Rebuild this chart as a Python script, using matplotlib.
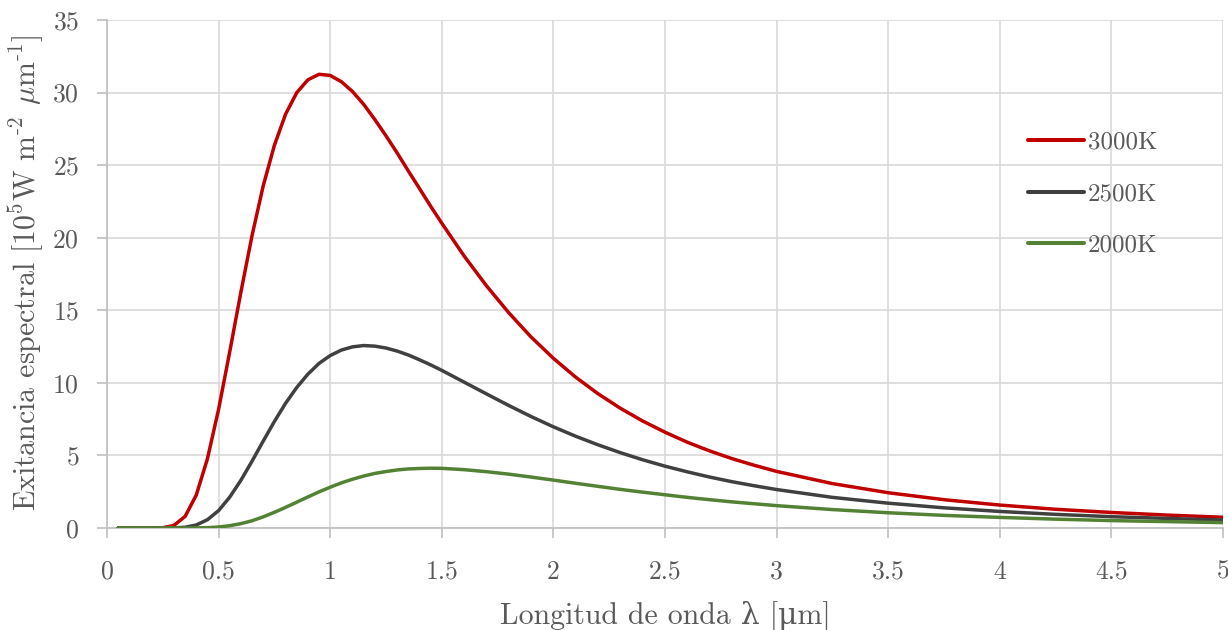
import matplotlib
matplotlib.use("Agg")
import matplotlib.pyplot as plt

plt.rcParams["font.family"] = ["cmr10", "DejaVu Serif"]
plt.rcParams["mathtext.fontset"] = "cm"
plt.rcParams["axes.formatter.use_mathtext"] = True

# Wavelength samples [µm]
wavelength = [0.05, 0.10, 0.15, 0.20, 0.25, 0.30, 0.35, 0.40, 0.45, 0.50,
              0.55, 0.60, 0.65, 0.70, 0.75, 0.80, 0.85, 0.90, 0.95, 1.00,
              1.05, 1.10, 1.15, 1.20, 1.25, 1.30, 1.35, 1.40, 1.45, 1.50,
              1.6, 1.7, 1.8, 1.9, 2.0, 2.1, 2.2, 2.3, 2.4, 2.5,
              2.6, 2.7, 2.8, 2.9, 3.0, 3.25, 3.5, 3.75, 4.0, 4.25,
              4.5, 4.75, 5.0]

# Spectral exitance [10^5 W m^-2 µm^-1]
exitance_3000 = [0.0, 0.0, 0.0, 0.0, 0.02, 0.18, 0.80, 2.27, 4.77, 8.18,
                 12.15, 16.26, 20.16, 23.58, 26.37, 28.51, 29.99, 30.88, 31.26, 31.18,
                 30.75, 30.07, 29.19, 28.14, 27.02, 25.84, 24.60, 23.39, 22.17, 21.00,
                 18.74, 16.69, 14.83, 13.16, 11.69, 10.39, 9.25, 8.25, 7.37, 6.60,
                 5.91, 5.31, 4.78, 4.32, 3.90, 3.06, 2.43, 1.95, 1.58, 1.29,
                 1.07, 0.89, 0.74]
exitance_2500 = [0.0, 0.0, 0.0, 0.0, 0.0, 0.01, 0.05, 0.21, 0.57, 1.20,
                 2.13, 3.29, 4.61, 5.99, 7.34, 8.59, 9.68, 10.60, 11.34, 11.88,
                 12.26, 12.48, 12.57, 12.53, 12.40, 12.19, 11.92, 11.59, 11.24, 10.86,
                 10.05, 9.24, 8.44, 7.68, 6.97, 6.32, 5.73, 5.19, 4.70, 4.26,
                 3.87, 3.51, 3.19, 2.91, 2.65, 2.11, 1.71, 1.39, 1.14, 0.94,
                 0.78, 0.66, 0.55]
exitance_2000 = [0.0, 0.0, 0.0, 0.0, 0.0, 0.0, 0.0, 0.01, 0.02, 0.07,
                 0.16, 0.30, 0.50, 0.77, 1.08, 1.42, 1.78, 2.14, 2.49, 2.81,
                 3.11, 3.36, 3.58, 3.76, 3.89, 4.00, 4.07, 4.10, 4.12, 4.11,
                 4.02, 3.88, 3.71, 3.51, 3.30, 3.08, 2.87, 2.66, 2.47, 2.29,
                 2.11, 1.95, 1.80, 1.67, 1.54, 1.27, 1.05, 0.87, 0.73, 0.61,
                 0.51, 0.44, 0.37]

series = [
    ("3000K", exitance_3000, "#c00000"),
    ("2500K", exitance_2500, "#404040"),
    ("2000K", exitance_2000, "#548235"),
]

text_color = "#595959"
grid_color = "#d9d9d9"
axis_color = "#bfbfbf"

fig = plt.figure(figsize=(12.28, 6.30), dpi=100)
ax = fig.add_axes([107 / 1228, 1 - 528 / 630, (1223 - 107) / 1228, (528 - 20) / 630])

for label, values, color in series:
    ax.plot(wavelength, values, color=color, lw=2.5, label=label,
            solid_capstyle="round", solid_joinstyle="round", zorder=3)

ax.set_xlim(0, 5)
ax.set_ylim(0, 35)
ax.set_xticks([0, 0.5, 1, 1.5, 2, 2.5, 3, 3.5, 4, 4.5, 5])
ax.set_xticklabels(["0", "0.5", "1", "1.5", "2", "2.5", "3", "3.5", "4", "4.5", "5"])
ax.set_yticks(range(0, 36, 5))

ax.grid(True, color=grid_color, lw=1.2, zorder=0)
ax.set_axisbelow(True)
for side in ("top", "right"):
    ax.spines[side].set_visible(False)
for side in ("left", "bottom"):
    ax.spines[side].set_color(axis_color)
    ax.spines[side].set_linewidth(1.2)

ax.tick_params(axis="y", colors=axis_color, labelcolor=text_color,
               length=7, width=1.2, pad=13, labelsize=18.5)
ax.tick_params(axis="x", colors=axis_color, labelcolor=text_color,
               length=7, width=1.2, pad=16, labelsize=18.5)

ax.set_xlabel("Longitud de onda λ [μm]", fontsize=21.5, color=text_color)
ax.xaxis.label.set_verticalalignment("baseline")
ax.xaxis.set_label_coords(0.5, (528 - 623) / 508)

ax.set_ylabel(r"Exitancia espectral [10$^{5}$W m$^{\text{-}2}$ $\mu$m$^{\text{-}1}$]",
              fontsize=21.5, color=text_color)
ax.yaxis.label.set_rotation_mode("anchor")
ax.yaxis.label.set_verticalalignment("baseline")
ax.yaxis.set_label_coords((36 - 107) / 1116, (528 - 273) / 508)

leg = ax.legend(loc="upper left", bbox_to_anchor=(1018 / 1228, 1 - 121 / 630),
                bbox_transform=fig.transFigure, frameon=False, fontsize=18,
                handlelength=2.25, handletextpad=0.15, labelspacing=1.17,
                borderaxespad=0)
for t in leg.get_texts():
    t.set_color(text_color)
for line in leg.get_lines():
    line.set_linewidth(2.9)

fig.savefig("out.png", dpi=100)
